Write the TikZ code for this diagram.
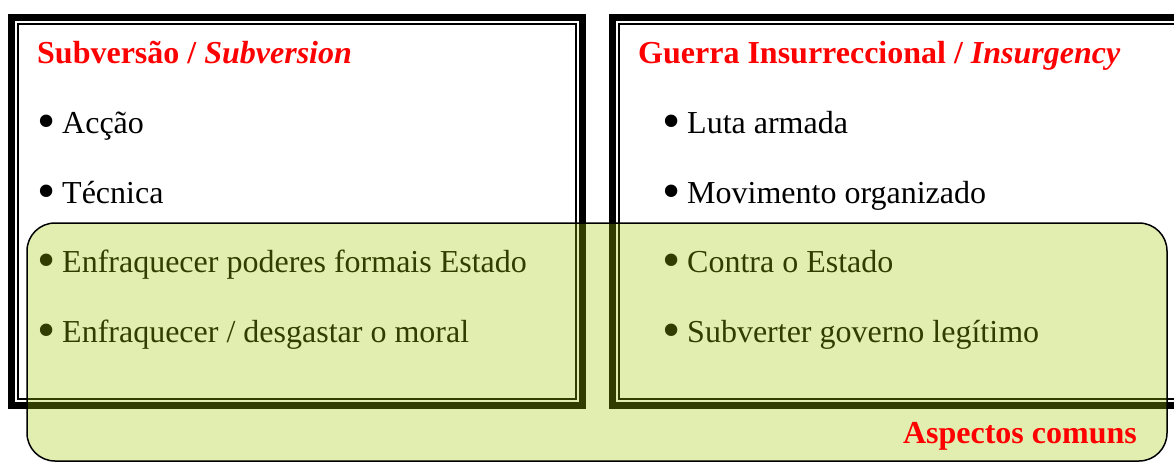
\documentclass[tikz,border=0pt]{standalone}
\usepackage{fontspec}
\setmainfont{Liberation Serif}
\usetikzlibrary{positioning}

\definecolor{commongreen}{RGB}{160,200,0}
% large bullet followed by a fixed indent
\newcommand{\bul}{\makebox[24pt][l]{\hspace*{-1pt}\fontsize{52}{52}\selectfont\raisebox{-5.5pt}{•}}}

\begin{document}
\begin{tikzpicture}[
    x = 1pt, y = -1pt, % pixel grid, y pointing down
    frame/.style = {draw = black, line width = 7pt, outer sep = 0pt, inner sep = 0pt},
    thinframe/.style = {draw = black, line width = 2pt},
    title/.style = {anchor = base west, text = red, inner sep = 0pt,
                    font = \fontsize{32}{38}\selectfont\bfseries},
    item/.style = {anchor = base west, inner sep = 0pt,
                   font = \fontsize{32}{38}\selectfont},
    common/.style = {draw = black, line width = 1.5pt, fill = commongreen,
                     fill opacity = 0.31, rounded corners = 28pt,
                     outer sep = 0pt, inner sep = 0pt}
    ]

    \useasboundingbox (0,0) rectangle (1174,463);

    % the two framed boxes
    \node[frame, minimum width = 571pt, minimum height = 387.5pt, anchor = north west]
        (subv) at (11.5,17.5) {};
    \draw[thinframe] ([shift = {(6.5pt,-6.5pt)}]subv.north west)
        rectangle ([shift = {(-6.5pt,6.5pt)}]subv.south east);

    \node[frame, minimum width = 600pt, minimum height = 387.5pt, anchor = north west]
        (insur) at (612.5,17.5) {};
    \draw[thinframe] ([shift = {(6.5pt,-6.5pt)}]insur.north west)
        rectangle ([shift = {(-6.5pt,6.5pt)}]insur.south east);

    % left box
    \node[title] (subvtitle) at (37,63) {Subversão / \textit{Subversion}};
    \node[item] (accao) at (38,133) {\bul Acção};
    \node[item, below = 70pt of accao.base west, anchor = base west] (tecnica) {\bul Técnica};
    \node[item, below = 69pt of tecnica.base west, anchor = base west] (poderes) {\bul Enfraquecer poderes formais Estado};
    \node[item, below = 70pt of poderes.base west, anchor = base west] (moral) {\bul Enfraquecer / desgastar o moral};

    % right box
    \node[title] (insurtitle) at (638,63) {Guerra Insurreccional / \textit{Insurgency}};
    \node[item] (luta) at (663,133) {\bul Luta armada};
    \node[item, below = 70pt of luta.base west, anchor = base west] (movimento) {\bul Movimento organizado};
    \node[item, below = 69pt of movimento.base west, anchor = base west] (contra) {\bul Contra o Estado};
    \node[item, below = 70pt of contra.base west, anchor = base west] (governo) {\bul Subverter governo legítimo};

    % common aspects
    \node[common, minimum width = 1140pt, minimum height = 238pt, anchor = north west]
        (comuns) at (27,223) {};
    \node[title, above left = 18pt and 30pt of comuns.south east, anchor = base east]
        (comunstitle) {Aspectos comuns};
\end{tikzpicture}
\end{document}
